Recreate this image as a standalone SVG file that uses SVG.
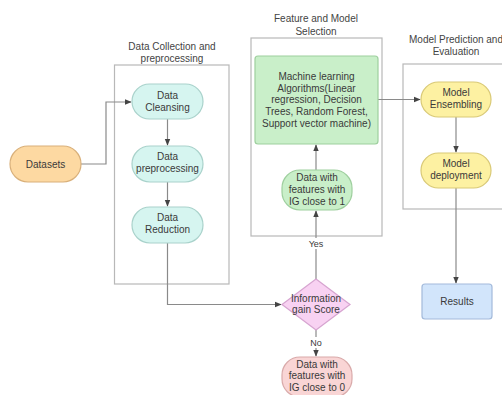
<svg xmlns="http://www.w3.org/2000/svg" width="502" height="395" viewBox="0 0 502 395">
<defs>
<style>
text{font-family:"Liberation Sans",Arial,sans-serif;font-size:10px;fill:#3a3a3a;text-anchor:middle}
.title{font-size:10px;fill:#444}
.cont{fill:none;stroke:#b8b8b8;stroke-width:1.2}
.edge{fill:none;stroke:#8a8a8a;stroke-width:1.2}
.lbl{font-size:9px}
</style>
<marker id="ah" viewBox="0 0 10 10" refX="9" refY="5" markerWidth="7" markerHeight="7" orient="auto" markerUnits="userSpaceOnUse">
<path d="M0,1 L10,5 L0,9 z" fill="#444"/>
</marker>
</defs>
<rect width="502" height="395" fill="#ffffff"/>

<g id="containers">
<rect class="cont" x="114.5" y="65" width="114.5" height="219"/>
<text class="title" x="172" y="50">Data Collection and</text>
<text class="title" x="172" y="62">preprocessing</text>
<rect class="cont" x="251" y="38" width="131" height="198"/>
<text class="title" x="316" y="22">Feature and Model</text>
<text class="title" x="316" y="35">Selection</text>
<rect class="cont" x="403" y="64" width="110" height="145"/>
<text class="title" x="456" y="43" font-size="9.2">Model Prediction and</text>
<text class="title" x="456" y="55">Evaluation</text>
</g>

<g id="connectors">
<path class="edge" d="M81,164 H106 V102 H131" marker-end="url(#ah)"/>
<path class="edge" d="M167.5,119 V145" marker-end="url(#ah)"/>
<path class="edge" d="M167.5,182 V206" marker-end="url(#ah)"/>
<path class="edge" d="M167.5,243 V304.5 H281" marker-end="url(#ah)"/>
<path class="edge" d="M316,279 V211" marker-end="url(#ah)"/>
<path class="edge" d="M316,170 V145" marker-end="url(#ah)"/>
<path class="edge" d="M378,99.5 H420" marker-end="url(#ah)"/>
<path class="edge" d="M456,117 V152" marker-end="url(#ah)"/>
<path class="edge" d="M456,188 V283" marker-end="url(#ah)"/>
<path class="edge" d="M316,330 V356" marker-end="url(#ah)"/>
<rect x="306" y="238" width="20" height="11" fill="#ffffff"/>
<text class="lbl" x="316" y="247">Yes</text>
<rect x="308" y="337" width="16" height="11" fill="#ffffff"/>
<text class="lbl" x="316" y="346">No</text>
</g>

<g id="datasets">
<rect x="10" y="146" width="71" height="36" rx="18" fill="#fdd9a2" stroke="#d9b07a" stroke-width="1.2"/>
<text x="45.5" y="168">Datasets</text>
</g>
<g id="data-cleansing">
<rect x="132" y="84" width="71" height="35" rx="17.5" fill="#d6f5f0" stroke="#a9d2cb" stroke-width="1.2"/>
<text x="167.5" y="99">Data</text>
<text x="167.5" y="111">Cleansing</text>
</g>
<g id="data-preprocessing">
<rect x="132" y="146" width="71" height="36" rx="18" fill="#d6f5f0" stroke="#a9d2cb" stroke-width="1.2"/>
<text x="167.5" y="160">Data</text>
<text x="167.5" y="172">preprocessing</text>
</g>
<g id="data-reduction">
<rect x="132" y="207" width="71" height="36" rx="18" fill="#d6f5f0" stroke="#a9d2cb" stroke-width="1.2"/>
<text x="167.5" y="221">Data</text>
<text x="167.5" y="233">Reduction</text>
</g>
<g id="ml-algorithms">
<rect x="255" y="56" width="123" height="88" rx="3" fill="#c9efc9" stroke="#9ecf9e" stroke-width="1.2"/>
<text x="316.5" y="80">Machine learning</text>
<text x="316.5" y="92">Algorithms(Linear</text>
<text x="316.5" y="103">regression, Decision</text>
<text x="316.5" y="115">Trees, Random Forest,</text>
<text x="316.5" y="127">Support vector machine)</text>
</g>
<g id="ig-close-1">
<rect x="282" y="170" width="70" height="40" rx="18" fill="#c9efc9" stroke="#9ecf9e" stroke-width="1.2"/>
<text x="317" y="181">Data with</text>
<text x="317" y="193">features with</text>
<text x="317" y="205">IG close to 1</text>
</g>
<g id="info-gain">
<path d="M316,279 L350,304.5 L316,330 L282,304.5 Z" fill="#f8d2f2" stroke="#d6a4d0" stroke-width="1.2"/>
<text x="316" y="302">Information</text>
<text x="316" y="313">gain Score</text>
</g>
<g id="ig-close-0">
<rect x="282" y="357" width="70" height="40" rx="18" fill="#f9d5d5" stroke="#d9aaaa" stroke-width="1.2"/>
<text x="317" y="368">Data with</text>
<text x="317" y="379">features with</text>
<text x="317" y="391">IG close to 0</text>
</g>
<g id="model-ensembling">
<rect x="421" y="82" width="70" height="35" rx="17.5" fill="#fdf1a2" stroke="#d9c976" stroke-width="1.2"/>
<text x="456" y="96">Model</text>
<text x="456" y="108">Ensembling</text>
</g>
<g id="model-deployment">
<rect x="421" y="153" width="70" height="35" rx="17.5" fill="#fdf1a2" stroke="#d9c976" stroke-width="1.2"/>
<text x="456" y="167">Model</text>
<text x="456" y="179">deployment</text>
</g>
<g id="results">
<rect x="422" y="284" width="70" height="35" rx="3" fill="#d2e5fb" stroke="#a3badb" stroke-width="1.2"/>
<text x="457" y="305">Results</text>
</g>
</svg>
